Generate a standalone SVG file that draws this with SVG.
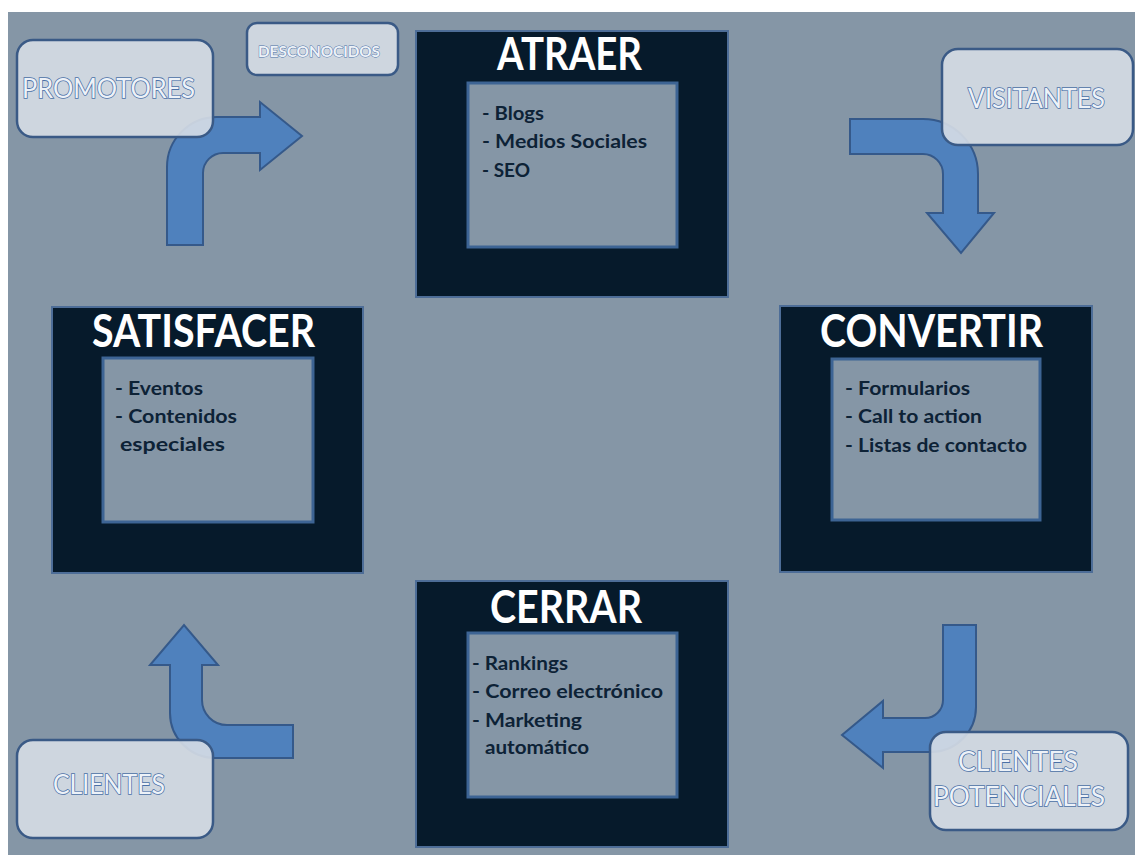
<svg xmlns="http://www.w3.org/2000/svg" width="1135" height="855" viewBox="0 0 1135 855">
<style>
.outer{fill:#061a2b;stroke:#4d6d97;stroke-width:2}
.inner{fill:#8596a6;stroke:#3d6494;stroke-width:3}
.title{font-family:Lato,"Open Sans","Liberation Sans",sans-serif;font-weight:bold;font-size:45px;fill:#ffffff}
.body{font-family:Lato,"Open Sans","Liberation Sans",sans-serif;font-weight:bold;font-size:19.5px;fill:#0d2236}
.lbl{fill:#d6dde6;fill-opacity:0.9;stroke:#3a5a86;stroke-width:2.5}
.ltxt{font-family:Lato,"Open Sans","Liberation Sans",sans-serif;font-size:27px;fill:#edf2f8;stroke:#4b70a6;stroke-width:1.6;paint-order:stroke}
.arrow{fill:#4f81bd;stroke:#35598a;stroke-width:2;stroke-linejoin:miter}
</style>
<rect x="0" y="0" width="1135" height="855" fill="#ffffff"/>
<rect x="8" y="12" width="1127" height="843" fill="#8596a6"/>

<g id="atraer">
<rect class="outer" x="416" y="31" width="312" height="266"/>
<rect class="inner" x="468" y="83" width="209" height="164"/>
<text class="title" x="497" y="70" textLength="145" lengthAdjust="spacingAndGlyphs">ATRAER</text>
<text class="body" x="482" y="120" textLength="62" lengthAdjust="spacingAndGlyphs">- Blogs</text>
<text class="body" x="482" y="148" textLength="165" lengthAdjust="spacingAndGlyphs">- Medios Sociales</text>
<text class="body" x="482" y="177" textLength="48" lengthAdjust="spacingAndGlyphs">- SEO</text>
</g>

<g id="satisfacer">
<rect class="outer" x="52" y="307" width="311" height="266"/>
<rect class="inner" x="103" y="358" width="210" height="164"/>
<text class="title" x="92" y="347" textLength="223" lengthAdjust="spacingAndGlyphs">SATISFACER</text>
<text class="body" x="115" y="395" textLength="88" lengthAdjust="spacingAndGlyphs">- Eventos</text>
<text class="body" x="115" y="423" textLength="122" lengthAdjust="spacingAndGlyphs">- Contenidos</text>
<text class="body" x="120" y="451" textLength="105" lengthAdjust="spacingAndGlyphs">especiales</text>
</g>

<g id="convertir">
<rect class="outer" x="780" y="306" width="312" height="266"/>
<rect class="inner" x="832" y="359" width="208" height="161"/>
<text class="title" x="820" y="347" textLength="223" lengthAdjust="spacingAndGlyphs">CONVERTIR</text>
<text class="body" x="845" y="395" textLength="125" lengthAdjust="spacingAndGlyphs">- Formularios</text>
<text class="body" x="845" y="423" textLength="137" lengthAdjust="spacingAndGlyphs">- Call to action</text>
<text class="body" x="845" y="452" textLength="182" lengthAdjust="spacingAndGlyphs">- Listas de contacto</text>
</g>

<g id="cerrar">
<rect class="outer" x="416" y="581" width="312" height="266"/>
<rect class="inner" x="468" y="633" width="209" height="164"/>
<text class="title" x="490" y="623" textLength="152" lengthAdjust="spacingAndGlyphs">CERRAR</text>
<text class="body" x="472" y="670" textLength="96" lengthAdjust="spacingAndGlyphs">- Rankings</text>
<text class="body" x="472" y="698" textLength="191" lengthAdjust="spacingAndGlyphs">- Correo electrónico</text>
<text class="body" x="472" y="727" textLength="110" lengthAdjust="spacingAndGlyphs">- Marketing</text>
<text class="body" x="485" y="754" textLength="104" lengthAdjust="spacingAndGlyphs">automático</text>
</g>

<g id="connectors">
<path class="arrow" d="M167,245 L167,167 A50,50 0 0 1 217,117 L260,117 L260,102 L302,136 L260,170 L260,153 L223,153 A20,20 0 0 0 203,173 L203,245 Z"/>
<path class="arrow" d="M850,119 L923,119 A55,55 0 0 1 978,174 L978,213 L994,213 L961,253 L927,213 L943,213 L943,174 A20,20 0 0 0 923,154 L850,154 Z"/>
<path class="arrow" d="M943,625 L976,625 L976,707 A45,45 0 0 1 931,752 L883,752 L883,768 L842,735 L883,701 L883,718 L925,718 A18,18 0 0 0 943,700 Z"/>
<path class="arrow" d="M293,725 L227,725 A25,25 0 0 1 202,700 L202,665 L218,665 L184,625 L150,665 L170,665 L170,713 A45,45 0 0 0 215,758 L293,758 Z"/>
</g>

<g id="promotores">
<rect class="lbl" x="17" y="40" width="196" height="97" rx="16"/>
<text class="ltxt" x="22" y="98" textLength="173" lengthAdjust="spacingAndGlyphs">PROMOTORES</text>
</g>

<g id="desconocidos">
<rect class="lbl" x="247" y="23" width="151" height="52" rx="10"/>
<text class="ltxt" x="258" y="57" style="font-size:16px;font-weight:bold;stroke-width:1" textLength="122" lengthAdjust="spacingAndGlyphs">DESCONOCIDOS</text>
</g>

<g id="visitantes">
<rect class="lbl" x="942" y="49" width="191" height="96" rx="16"/>
<text class="ltxt" x="968" y="108" textLength="137" lengthAdjust="spacingAndGlyphs">VISITANTES</text>
</g>

<g id="clientes-potenciales">
<rect class="lbl" x="930" y="732" width="198" height="98" rx="16"/>
<text class="ltxt" x="958" y="771" textLength="120" lengthAdjust="spacingAndGlyphs">CLIENTES</text>
<text class="ltxt" x="933" y="806" textLength="172" lengthAdjust="spacingAndGlyphs">POTENCIALES</text>
</g>

<g id="clientes">
<rect class="lbl" x="17" y="740" width="196" height="98" rx="16"/>
<text class="ltxt" x="53" y="794" textLength="112" lengthAdjust="spacingAndGlyphs">CLIENTES</text>
</g>
</svg>
